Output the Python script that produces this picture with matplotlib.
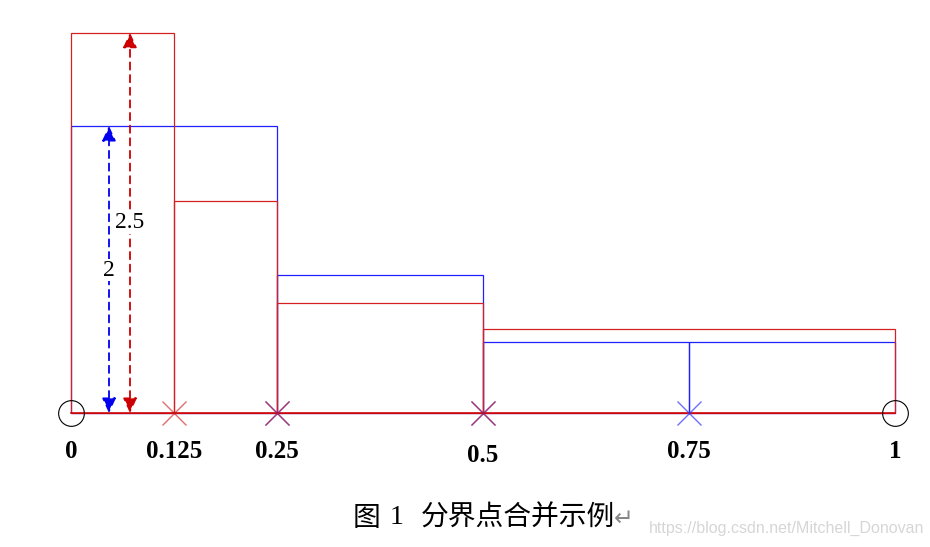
import numpy as np
import matplotlib
matplotlib.use("Agg")
import matplotlib.pyplot as plt

# bin edges and heights of the two histograms
blue_edges = [0, 0.25, 0.5, 0.75, 1]
blue_heights = [2.0, 0.96, 0.495, 0.495]
red_edges = [0, 0.125, 0.25, 0.5, 1]
red_heights = [2.65, 1.48, 0.77, 0.585]

tick_vals = [0, 0.125, 0.25, 0.5, 0.75, 1]
tick_labels = ["0", "0.125", "0.25", "0.5", "0.75", "1"]
red_marks = [0.125, 0.25, 0.5]
blue_marks = [0.25, 0.5, 0.75]
end_points = [0, 1]
arrow_labels = ["2", "2.5"]

PX_X = 824.0   # pixels per x unit
PX_Y = 143.5   # pixels per y unit
W, H = 930, 547
X0, Y0 = 71, 413  # pixel position of the origin

fig = plt.figure(figsize=(W / 100, H / 100), dpi=100)
ax = fig.add_axes([0, 0, 1, 1])
ax.set_xlim(-X0 / PX_X, (W - X0) / PX_X)
ax.set_ylim(-(H - Y0) / PX_Y, Y0 / PX_Y)
ax.axis("off")

lw = 0.9
blue = "#2020ff"
red = "#d42020"

bw = np.diff(blue_edges)
ax.bar(blue_edges[:-1], blue_heights, width=bw, align="edge", fill=False,
       edgecolor=blue, linewidth=lw, zorder=2)
rw = np.diff(red_edges)
ax.bar(red_edges[:-1], red_heights, width=rw, align="edge", fill=False,
       edgecolor=red, linewidth=lw, zorder=3)
ax.plot([0, 1], [0, 0], color="#cc0000", lw=1.1, zorder=4)

# boundary crosses
ax.plot(blue_marks, np.zeros(len(blue_marks)), "x", color="#3333ff", alpha=0.7,
        markersize=17, mew=1.0, zorder=5)
ax.plot(red_marks, np.zeros(len(red_marks)), "x", color="#cc1111", alpha=0.6,
        markersize=17, mew=1.0, zorder=5)
ax.plot(end_points, np.zeros(len(end_points)), "o", mfc="none", mec="black",
        markersize=18.5, mew=0.8, zorder=6)

# dashed height arrows
bx = (109 - X0) / PX_X
rx = (130 - X0) / PX_X
for x, top, c in [(bx, blue_heights[0], "#0000ee"), (rx, red_heights[0], "#cc0000")]:
    ax.annotate("", xy=(x, top), xytext=(x, 0),
                arrowprops=dict(arrowstyle="<|-|>,head_length=0.6,head_width=0.28",
                                color=c, lw=1.3, linestyle=(0, (4, 3)),
                                mutation_scale=15, shrinkA=0, shrinkB=0), zorder=7)
serif = "Liberation Serif"
ax.text(bx, (Y0 - 270) / PX_Y, arrow_labels[0], ha="center", va="center",
        fontsize=17, family=serif, zorder=8,
        bbox=dict(fc="white", ec="none", pad=0.5))
ax.text(rx, (Y0 - 223) / PX_Y, arrow_labels[1], ha="center", va="center",
        fontsize=17, family=serif, zorder=8,
        bbox=dict(fc="white", ec="none", pad=0.5))

# tick labels under the baseline
for v, lab in zip(tick_vals, tick_labels):
    py = 455 if lab == "0.5" else 451
    ax.text(v, (Y0 - py) / PX_Y, lab, ha="center", va="center",
            fontsize=18, fontweight="bold", family=serif)

# caption
cjk = ["Noto Sans CJK SC", "DejaVu Sans"]
cy = 518
fig.text(353 / W, 1 - cy / H, "图", ha="left", va="center", fontsize=20, family=cjk)
fig.text(397 / W, 1 - cy / H, "1", ha="center", va="center", fontsize=20, family=serif)
fig.text(421 / W, 1 - cy / H, "分界点合并示例", ha="left", va="center",
         fontsize=20, family=cjk)
fig.text(614 / W, 1 - (cy + 1) / H, "↵", ha="left", va="center", fontsize=17,
         color="#888888", family=["DejaVu Sans"])
fig.text(649 / W, 1 - 528 / H, "https://blog.csdn.net/Mitchell_Donovan", ha="left",
         va="center", fontsize=11.5, color="#d6d6d6", family="Liberation Sans")

fig.savefig("out.png", dpi=100)
